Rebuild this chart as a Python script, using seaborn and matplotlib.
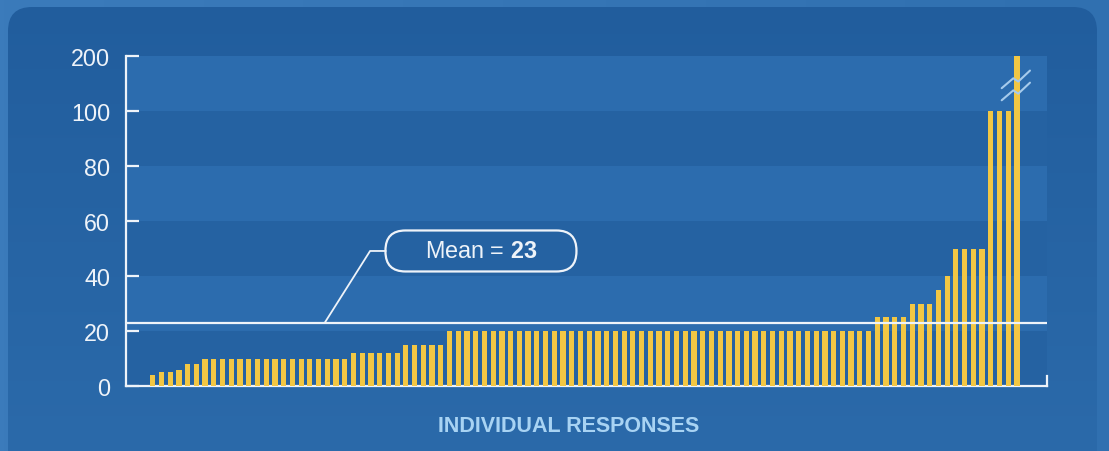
import numpy as np
import pandas as pd
import matplotlib
matplotlib.use("Agg")
import matplotlib.pyplot as plt
import seaborn as sns
from matplotlib.patches import FancyBboxPatch
from matplotlib.transforms import ScaledTranslation

# Survey answers, sorted from smallest to largest (one bar per respondent)
responses = [
    4, 5, 5, 6, 8, 8,
    10, 10, 10, 10, 10, 10, 10, 10, 10, 10, 10, 10, 10, 10, 10, 10, 10,
    12, 12, 12, 12, 12, 12,
    15, 15, 15, 15, 15,
    20, 20, 20, 20, 20, 20, 20, 20, 20, 20, 20, 20, 20, 20, 20, 20, 20,
    20, 20, 20, 20, 20, 20, 20, 20, 20, 20, 20, 20, 20, 20, 20, 20, 20,
    20, 20, 20, 20, 20, 20, 20, 20, 20, 20, 20, 20, 20, 20, 20,
    25, 25, 25, 25,
    30, 30, 30,
    35, 40,
    50, 50, 50, 50,
    100, 100, 100,
    200,
]
y_tick_values = [0, 20, 40, 60, 80, 100, 200]
axis_break = 100          # values above this are compressed
compress_factor = 0.2     # 100..200 squeezed into 100..120

BAR = "#f2c744"
WHITE = "#eef3f9"
BAND_DARK = "#2562a2"
BAND_LIGHT = "#2c6cae"


def to_axis(v):
    v = np.asarray(v, dtype=float)
    return np.where(v <= axis_break, v, axis_break + (v - axis_break) * compress_factor)


sns.set_style("white")
plt.rcParams["font.family"] = ["Liberation Sans", "DejaVu Sans"]
plt.rcParams["mathtext.fontset"] = "custom"
plt.rcParams["mathtext.rm"] = "Liberation Sans"
plt.rcParams["mathtext.bf"] = "Liberation Sans:bold"

W, H = 1109, 452
fig = plt.figure(figsize=(W / 100, H / 100), dpi=100)
fig.patch.set_facecolor("#3474b4")

# Backdrop: light frame with a rounded, gradient-filled panel
bg = fig.add_axes([0, 0, 1, 1], zorder=-10)
bg.set_xlim(0, W)
bg.set_ylim(H, 0)
bg.axis("off")
outer = np.linspace(0, 1, 256).reshape(1, -1)
bg.imshow(outer, extent=[0, W, H, 0], aspect="auto",
          cmap=matplotlib.colors.LinearSegmentedColormap.from_list("o", ["#3b7bbb", "#3070b0"]))
panel = FancyBboxPatch((8, 8), W - 20, H + 40, boxstyle="round,pad=0,rounding_size=24",
                       transform=bg.transData, facecolor="none", edgecolor="none")
bg.add_patch(panel)
grad = np.linspace(0, 1, 256).reshape(-1, 1)
im = bg.imshow(grad, extent=[0, W, H, 0], aspect="auto",
               cmap=matplotlib.colors.LinearSegmentedColormap.from_list("p", ["#215d9d", "#2b6aaa"]))
im.set_clip_path(panel)

# Main chart area
ax = fig.add_axes([126 / W, 1 - 387 / H, 921 / W, 330 / H])
ax.patch.set_alpha(0)

df = pd.DataFrame({"respondent": np.arange(len(responses)),
                   "shown": to_axis(responses)})
sns.barplot(data=df, x="respondent", y="shown", color=BAR, saturation=1,
            width=0.6, linewidth=0, ax=ax, zorder=3)

top = float(to_axis(max(y_tick_values)))
ax.set_xlim(-3.06, 102.44)
ax.set_ylim(0, top)

# Alternating horizontal bands
edges = list(to_axis(y_tick_values[:-1])) + [top]
for i in range(len(edges) - 1):
    ax.axhspan(edges[i], edges[i + 1], color=BAND_DARK if i % 2 == 0 else BAND_LIGHT,
               lw=0, zorder=0)

# Axes styling
ax.spines["top"].set_visible(False)
for s in ["left", "bottom", "right"]:
    ax.spines[s].set_color(WHITE)
    ax.spines[s].set_linewidth(1.6)
ax.spines["right"].set_bounds(0, 3.6)
ax.set_yticks(to_axis(y_tick_values))
ax.set_yticklabels([str(v) for v in y_tick_values])
ax.tick_params(axis="y", left=True, direction="in", length=9, width=1.6, color=WHITE,
               labelsize=16.8, labelcolor=WHITE, pad=11.5)
ax.tick_params(axis="x", bottom=False, labelbottom=False)
ax.set_xlabel("")
ax.set_ylabel("")

# Mean line with callout
mean_val = float(np.mean(responses))
ax.axhline(mean_val, color=WHITE, lw=1.6, zorder=4)
box_x, box_y = 37.6, 49.1
ax.plot([19.7, 24.9, 26.7], [mean_val, box_y, box_y], color=WHITE, lw=1.3, zorder=4)
box = FancyBboxPatch((-0.955, -0.205), 1.91, 0.41,
                     boxstyle="round,pad=0,rounding_size=0.2",
                     transform=fig.dpi_scale_trans + ScaledTranslation(box_x, box_y, ax.transData),
                     facecolor="none", edgecolor=WHITE, lw=1.6, zorder=5, clip_on=False)
ax.add_patch(box)
ax.text(box_x, box_y, r"Mean = $\mathbf{%d}$" % round(mean_val), ha="center", va="center",
        fontsize=16.8, color=WHITE, zorder=6)

# Axis-break marks across the tallest bar
last = len(responses) - 1
bx = np.array([-1.75, -0.42, 0.15, 1.49]) + last
by = np.array([108.3, 111.9, 110.7, 114.7])
for dy in (0, -4.4):
    ax.plot(bx, by + dy, color="#a6cbec", lw=1.5, zorder=6, clip_on=False)

ax.text(0.481, -0.12, "INDIVIDUAL RESPONSES", transform=ax.transAxes,
        ha="center", va="center", fontsize=15.5, fontweight="bold", color="#a8d3f3")

fig.savefig("out.png", dpi=100)
